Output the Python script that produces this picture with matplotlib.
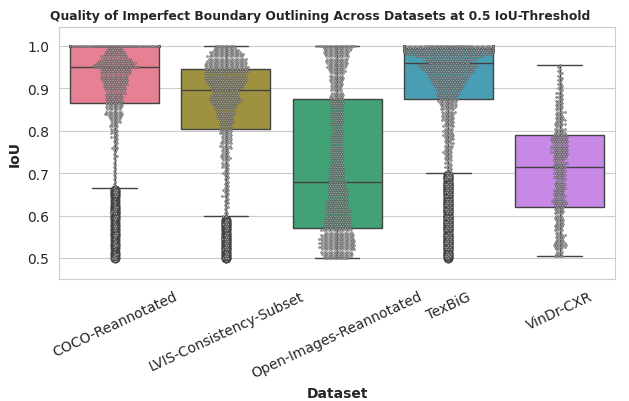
import numpy as np
import pandas as pd
import matplotlib
matplotlib.use("Agg")
import matplotlib.pyplot as plt
import seaborn as sns

datasets = ["COCO-Reannotated", "LVIS-Consistency-Subset",
            "Open-Images-Reannotated", "TexBiG", "VinDr-CXR"]

# IoU levels, 1.000 down to 0.500 in 0.005 steps (10 levels per row below)
iou_levels = np.round(np.linspace(1.0, 0.5, 101), 3)

# number of boxes at each IoU level
coco_counts = [
    200, 6, 7, 8, 9, 11, 12, 14, 16, 17,
    18, 12, 12, 12, 11, 11, 11, 10, 10, 9,
    9, 8, 8, 7, 7, 7, 7, 7, 7, 7,
    6, 7, 8, 6, 5, 4, 4, 3, 4, 3,
    3, 3, 2, 3, 2, 2, 2, 2, 3, 2,
    1, 1, 2, 1, 1, 1, 1, 1, 1, 1,
    1, 1, 1, 1, 1, 1, 1, 1, 2, 2,
    2, 2, 1, 1, 1, 1, 2, 2, 2, 3,
    2, 2, 1, 1, 1, 2, 1, 2, 2, 2,
    1, 1, 1, 1, 2, 1, 1, 1, 2, 1,
    2,
]
lvis_counts = [
    8, 9, 11, 13, 14, 15, 16, 16, 17, 17,
    18, 18, 18, 17, 17, 17, 17, 16, 15, 14,
    13, 11, 11, 11, 12, 13, 13, 11, 10, 9,
    8, 8, 7, 7, 6, 6, 6, 5, 5, 5,
    5, 5, 4, 4, 4, 4, 5, 5, 4, 3,
    3, 3, 4, 4, 3, 3, 3, 3, 2, 2,
    3, 2, 2, 2, 2, 2, 2, 2, 3, 2,
    2, 3, 2, 2, 2, 1, 2, 1, 1, 2,
    2, 0, 2, 2, 3, 2, 2, 2, 2, 2,
    2, 3, 2, 2, 2, 2, 3, 2, 2, 2,
    3,
]
openimages_counts = [
    16, 12, 11, 11, 10, 10, 9, 9, 9, 8,
    8, 7, 7, 6, 6, 6, 6, 5, 5, 5,
    4, 5, 5, 6, 6, 6, 6, 6, 5, 5,
    5, 6, 5, 5, 5, 4, 5, 5, 4, 4,
    5, 4, 5, 5, 5, 4, 4, 5, 5, 5,
    5, 5, 5, 5, 5, 5, 5, 6, 6, 6,
    6, 6, 6, 7, 7, 7, 7, 7, 8, 8,
    8, 8, 8, 9, 9, 9, 9, 10, 10, 10,
    10, 10, 11, 11, 11, 11, 11, 13, 12, 14,
    13, 15, 14, 15, 14, 15, 14, 13, 13, 12,
    10,
]
texbig_counts = [
    140, 120, 100, 40, 35, 28, 22, 18, 17, 25,
    23, 21, 20, 18, 17, 16, 15, 14, 13, 12,
    11, 10, 9, 9, 8, 8, 8, 7, 7, 6,
    6, 6, 5, 5, 5, 5, 4, 4, 5, 4,
    4, 4, 5, 4, 4, 3, 4, 4, 3, 3,
    4, 3, 3, 3, 3, 3, 2, 3, 2, 2,
    3, 2, 3, 3, 2, 3, 3, 2, 3, 3,
    2, 3, 3, 2, 3, 3, 2, 3, 3, 2,
    3, 3, 2, 3, 3, 2, 3, 3, 2, 3,
    3, 2, 3, 3, 2, 3, 3, 2, 3, 3,
    2,
]
vindr_counts = [
    0, 0, 0, 0, 0, 0, 0, 0, 0, 1,
    1, 1, 1, 2, 1, 2, 2, 1, 2, 2,
    2, 2, 3, 2, 3, 2, 3, 3, 3, 3,
    3, 4, 3, 3, 4, 4, 3, 5, 3, 5,
    4, 5, 6, 7, 7, 7, 6, 7, 7, 6,
    7, 6, 6, 5, 5, 6, 5, 5, 5, 4,
    5, 4, 5, 4, 4, 5, 4, 4, 5, 4,
    5, 5, 5, 6, 6, 5, 4, 4, 4, 4,
    3, 4, 4, 3, 4, 4, 3, 4, 3, 4,
    4, 3, 4, 5, 6, 5, 3, 3, 3, 4,
    0,
]

all_counts = [coco_counts, lvis_counts, openimages_counts, texbig_counts, vindr_counts]
frames = []
for name, counts in zip(datasets, all_counts):
    vals = np.repeat(iou_levels, counts)
    frames.append(pd.DataFrame({"Dataset": name, "IoU": vals}))
df = pd.concat(frames, ignore_index=True)

sns.set_style("whitegrid")
fig, ax = plt.subplots(figsize=(6.29, 4.02), dpi=100)
fig.subplots_adjust(left=0.094, right=0.978, top=0.931, bottom=0.303)

sns.boxplot(data=df, x="Dataset", y="IoU", order=datasets,
            palette="husl", ax=ax)
sns.swarmplot(data=df, x="Dataset", y="IoU", order=datasets,
              color="0.62", edgecolor="0.3", linewidth=0.3, size=1.4, ax=ax)

ax.set_ylim(0.45, 1.045)
fig.text(0.509, 0.958,
         "Quality of Imperfect Boundary Outlining Across Datasets at 0.5 IoU-Threshold",
         ha="center", va="center", fontsize=8.9, fontweight="bold")
ax.set_xlabel("Dataset", fontsize=10, fontweight="bold")
ax.set_ylabel("IoU", fontsize=10, fontweight="bold")
ax.tick_params(axis="both", labelsize=10)
plt.setp(ax.get_xticklabels(), rotation=25)

fig.savefig("out.png", dpi=100)
